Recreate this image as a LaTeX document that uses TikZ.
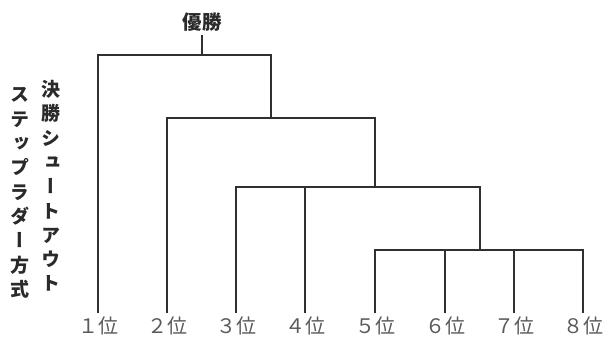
\documentclass[tikz,border=0pt]{standalone}
\usepackage{fontspec}
\newfontfamily\jp{Noto Sans CJK JP}
\newfontfamily\jpv{Noto Sans CJK JP}[RawFeature=+vert]
\definecolor{ln}{HTML}{303030}
\definecolor{tx}{HTML}{2A2A2A}
\definecolor{lb}{HTML}{5A5A5A}
\begin{document}
\begin{tikzpicture}[x=1pt,y=-1pt,
  bracket/.style={draw=ln,line width=2.2pt},
  rank/.style={anchor=north,inner sep=0pt,text=lb,font=\jp\fontsize{20}{20}\selectfont},
  vcol/.style={align=center,inner sep=0pt,text=tx,font=\jpv\bfseries\fontsize{19}{24.3}\selectfont}]
\useasboundingbox (0,0) rectangle (604,338);
% winner label
\node[inner sep=0pt,text=tx,font=\jp\bfseries\fontsize{19.5}{19.5}\selectfont] (w) at (202,22) {優勝};
% rank labels
\foreach \i/\d/\x in {1/１/98,2/２/167,3/３/236,4/４/305,5/５/375,6/６/445,7/７/514,8/８/583}{
  \node[rank] (n\i) at (\x,317) {\d 位};
  \coordinate (L\i) at (\x,313);
}
% junctions
\coordinate (A) at (202,55);
\coordinate (B) at (271,118);
\coordinate (C) at (375,187);
\coordinate (D) at (480,250);
% bracket
\draw[bracket] (w.south |- 0,35) -- (A);
\draw[bracket] (L1) |- (B |- A) -- (B);
\draw[bracket] (L2) |- (C |- B) -- (C);
\draw[bracket] (L3) |- (D |- C) -- (D);
\draw[bracket] (L4) -- (L4 |- C);
\draw[bracket] (L5) |- (L8 |- D) -- (L8);
\draw[bracket] (L6) -- (L6 |- D);
\draw[bracket] (L7) -- (L7 |- D);
% vertical texts
\node[vcol] (c2) at (20,193) {ス\\テ\\ッ\\プ\\ラ\\ダ\\ー\\方\\式};
\node[vcol] (c1) at (51,186) {決\\勝\\シ\\ュ\\ー\\ト\\ア\\ウ\\ト};
\end{tikzpicture}
\end{document}
